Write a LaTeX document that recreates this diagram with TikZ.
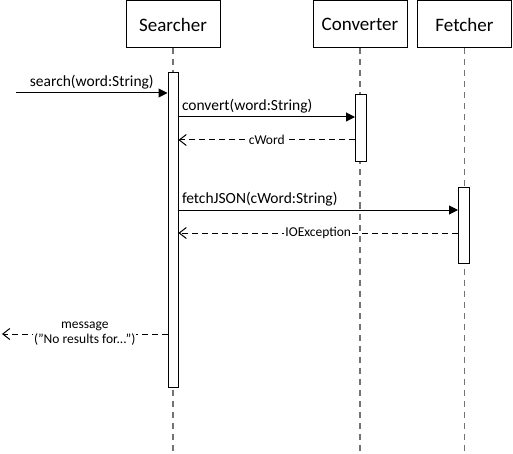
\documentclass[tikz,border=0pt]{standalone}
\usepackage{fontspec}
\setmainfont{Carlito}
\usetikzlibrary{arrows.meta,positioning}

\tikzset{
  actor/.style={draw, minimum width=94pt, minimum height=47pt, font=\fontsize{19}{22}\selectfont},
  lifeline/.style={draw=gray!90!black, dash pattern=on 6pt off 5pt, line width=1.3pt},
  activation/.style={draw, fill=white, minimum width=10pt, inner sep=0pt, anchor=north},
  call/.style={-{Triangle[length=9pt,width=9pt]}},
  reply/.style={dash pattern=on 6pt off 4pt, -{Straight Barb[length=7pt,width=11pt]}},
  msg/.style={font=\fontsize{15.5}{18}\selectfont, inner sep=3pt},
  note/.style={font=\fontsize{13.5}{15}\selectfont, fill=white, inner sep=1pt}
}

\begin{document}
\begin{tikzpicture}[x=1pt,y=-1pt,line width=1pt]
  \useasboundingbox (0,0) rectangle (513,454);
  % objects
  \node[actor] (searcher) at (173,24.5) {Searcher};
  \node[actor] (converter) at (360,24.5) {Converter};
  \node[actor] (fetcher) at (464.5,24.5) {Fetcher};
  \foreach \obj in {searcher,converter,fetcher}
    \draw[lifeline] (\obj.south) -- (\obj.south |- 0,454);
  % activations
  \node[activation, minimum height=315pt] (act searcher) at (173,72) {};
  \node[activation, minimum width=11pt, minimum height=67pt] (act converter) at (361,94) {};
  \node[activation, minimum width=11pt, minimum height=76pt] (act fetcher) at (464,187) {};
  \coordinate (caller) at (16,93);
  \coordinate (user) at (2,334);
  % messages
  \draw[call] (caller) -- (act searcher.west |- caller) node[msg, midway, above] {search(word:String)};
  \draw[call] (act searcher.east |- 0,117) -- (act converter.west |- 0,117) node[msg, pos=0, above right] {convert(word:String)};
  \draw[reply] (act converter.west |- 0,140) -- (act searcher.east |- 0,140) node[note, midway] {cWord};
  \draw[call] (act searcher.east |- 0,210) -- (act fetcher.west |- 0,210) node[msg, pos=0, above right] {fetchJSON(cWord:String)};
  \draw[reply] (act fetcher.west |- 0,233) -- (act searcher.east |- 0,233) node[note, midway] {IOException};
  \draw[reply] (act searcher.west |- user) -- (user) node[note, midway, align=center] {message\\("No results for...")};
\end{tikzpicture}
\end{document}
